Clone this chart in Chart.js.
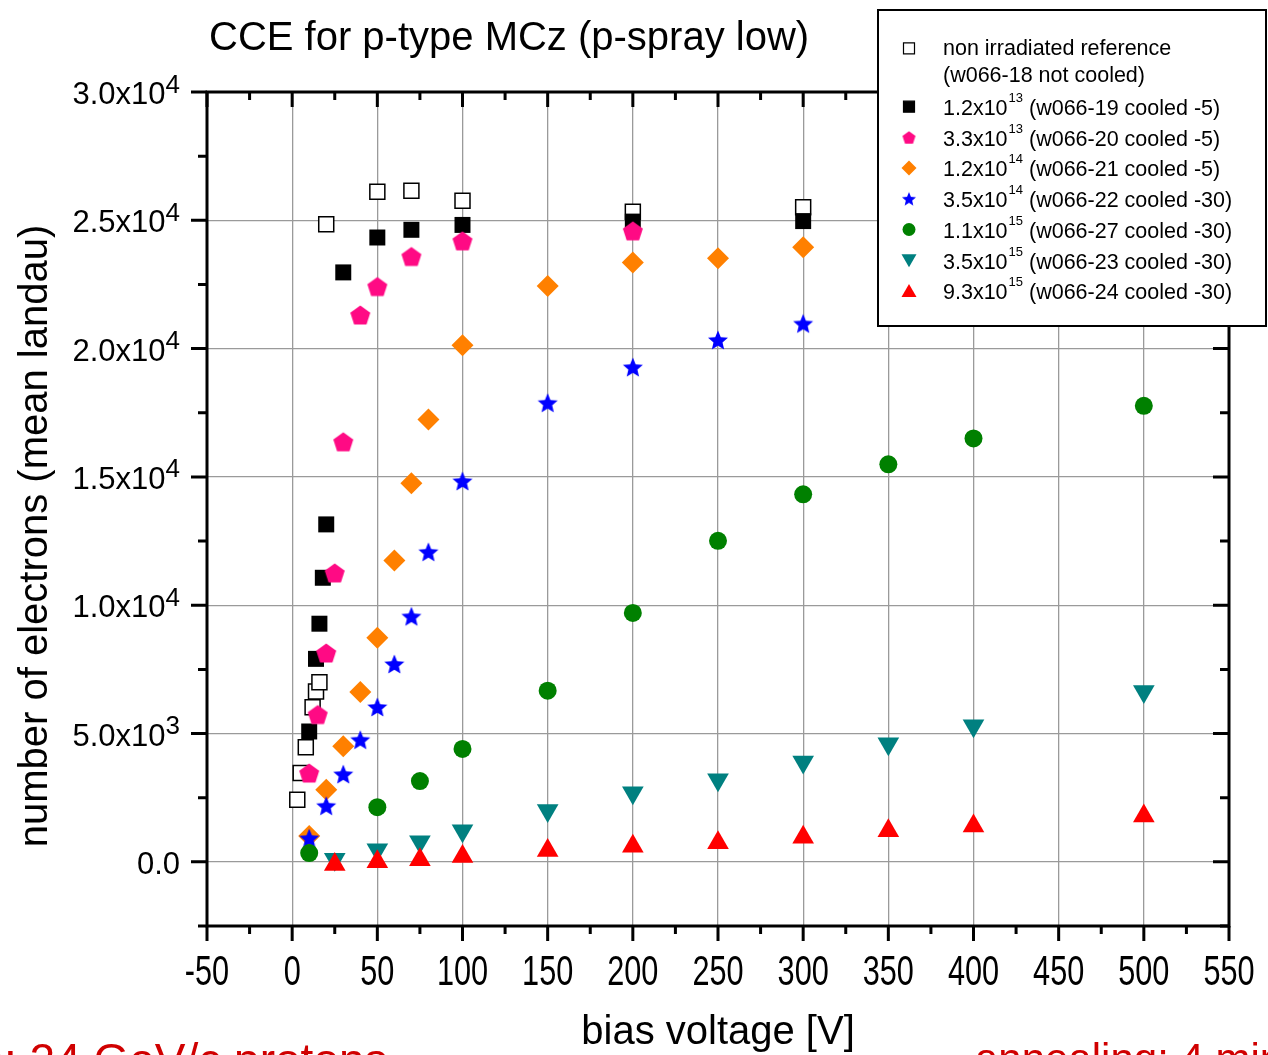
<!DOCTYPE html>
<html>
<head>
<meta charset="utf-8">
<script src="https://cdn.jsdelivr.net/npm/chart.js@4/dist/chart.umd.min.js"></script>
<style>
html, body { margin: 0; padding: 0; background: #fff; }
</style>
</head>
<body>
<canvas id="myChart" width="1268" height="1055"></canvas>
<script>
// data (bias voltage [V] vs mean landau)
const refX = [3, 5, 8, 12, 14, 16, 20, 50, 70, 100, 200, 300];
const refY = [2420, 3460, 4470, 6020, 6640, 7000, 24850, 26110, 26150, 25760, 25330, 25510];

const f1X = [10, 14, 16, 18, 20, 30, 50, 70, 100, 200, 300];
const f1Y = [5080, 7910, 9280, 11070, 13150, 22970, 24330, 24630, 24820, 24950, 24970];

const f2X = [10, 15, 20, 25, 30, 40, 50, 70, 100, 200];
const f2Y = [3460, 5740, 8140, 11260, 16370, 21310, 22420, 23590, 24200, 24590];

const f3X = [10, 20, 30, 40, 50, 60, 70, 80, 100, 150, 200, 250, 300];
const f3Y = [1010, 2810, 4500, 6620, 8730, 11740, 14750, 17240, 20130, 22440, 23360, 23520, 23950];

const f4X = [10, 20, 30, 40, 50, 60, 70, 80, 100, 150, 200, 250, 300];
const f4Y = [925, 2185, 3420, 4760, 6035, 7710, 9570, 12080, 14840, 17890, 19280, 20340, 20980];

const f5X = [10, 50, 75, 100, 150, 200, 250, 300, 350, 400, 500];
const f5Y = [340, 2130, 3150, 4400, 6670, 9700, 12510, 14320, 15490, 16500, 17770];

const f6X = [25, 50, 75, 100, 150, 200, 250, 300, 350, 400, 500];
const f6Y = [100, 470, 780, 1210, 2000, 2690, 3200, 3890, 4600, 5300, 6640];

const f7X = [25, 50, 75, 100, 150, 200, 250, 300, 350, 400, 500];
const f7Y = [-100, 0, 80, 210, 440, 610, 740, 960, 1210, 1400, 1790];

const xTicks = [-50, 0, 50, 100, 150, 200, 250, 300, 350, 400, 450, 500, 550];
const yTicks = [0, 5000, 10000, 15000, 20000, 25000, 30000];
const yTickText = ['0.0', '5.0x10', '1.0x10', '1.5x10', '2.0x10', '2.5x10', '3.0x10'];
const yTickExp = ['', '3', '4', '4', '4', '4', '4'];

const legendMain = ['1.2x10', '3.3x10', '1.2x10', '3.5x10', '1.1x10', '3.5x10', '9.3x10'];
const legendExp = ['13', '13', '14', '14', '15', '15', '15'];
const legendRest = [' (w066-19 cooled -5)', ' (w066-20 cooled -5)', ' (w066-21 cooled -5)',
  ' (w066-22 cooled -30)', ' (w066-27 cooled -30)', ' (w066-23 cooled -30)', ' (w066-24 cooled -30)'];

const FONT = '"Liberation Sans", Arial, sans-serif';
const PINK = '#ff0a84', ORANGE = '#ff8000', BLUE = '#0000ff', GREEN = '#008000', TEAL = '#008080', RED = '#ff0000';

// pentagon / filled star markers (not built into chart.js)
function makeShape(kind, w, color) {
  const s = Math.ceil(w) + 2;
  const c = document.createElement('canvas');
  c.width = s; c.height = s;
  const g = c.getContext('2d');
  const R = w / 1.902;
  const cx = s / 2, cy = s / 2 + 0.0955 * R;
  g.fillStyle = color;
  g.beginPath();
  const n = kind === 'star' ? 10 : 5;
  for (let i = 0; i < n; i++) {
    const a = -Math.PI / 2 + i * 2 * Math.PI / n;
    const r = (kind === 'star' && i % 2) ? R * 0.45 : R;
    g.lineTo(cx + r * Math.cos(a), cy + r * Math.sin(a));
  }
  g.closePath();
  g.fill();
  return c;
}

const pentaBig = makeShape('pentagon', 20, PINK);
const starBig = makeShape('star', 20, BLUE);
const pentaSmall = makeShape('pentagon', 13, PINK);
const starSmall = makeShape('star', 14, BLUE);

function pts(xs, ys) {
  return xs.map((v, i) => ({ x: v, y: ys[i] }));
}

const series = [
  { data: pts(refX, refY), style: 'rect', r: 10.6, bg: '#ffffff', bc: '#000000', bw: 1.5 },
  { data: pts(f1X, f1Y), style: 'rect', r: 11.3, bg: '#000000', bc: '#000000', bw: 0 },
  { data: pts(f2X, f2Y), style: pentaBig, r: 10, bg: PINK, bc: PINK, bw: 0 },
  { data: pts(f3X, f3Y), style: 'rectRot', r: 11, bg: ORANGE, bc: ORANGE, bw: 0 },
  { data: pts(f4X, f4Y), style: starBig, r: 10, bg: BLUE, bc: BLUE, bw: 0 },
  { data: pts(f5X, f5Y), style: 'circle', r: 9, bg: GREEN, bc: GREEN, bw: 0 },
  { data: pts(f6X, f6Y), style: 'triangle', r: 12.5, rot: 180, bg: TEAL, bc: TEAL, bw: 0 },
  { data: pts(f7X, f7Y), style: 'triangle', r: 12.5, bg: RED, bc: RED, bw: 0 }
];

// legend symbols drawn by hand
function legendSymbol(ctx, kind, x, y) {
  ctx.save();
  ctx.beginPath();
  if (kind === 0 || kind === 1) {
    ctx.rect(x - 5.5, y - 5.5, 11, 11);
    ctx.fillStyle = kind === 0 ? '#fff' : '#000';
    ctx.fill();
    ctx.lineWidth = 1.2; ctx.strokeStyle = '#000'; ctx.stroke();
  } else if (kind === 2) {
    ctx.drawImage(pentaSmall, x - pentaSmall.width / 2, y - pentaSmall.height / 2);
  } else if (kind === 3) {
    ctx.moveTo(x, y - 7.5); ctx.lineTo(x + 7.5, y); ctx.lineTo(x, y + 7.5); ctx.lineTo(x - 7.5, y);
    ctx.fillStyle = ORANGE; ctx.fill();
  } else if (kind === 4) {
    ctx.drawImage(starSmall, x - starSmall.width / 2, y - starSmall.height / 2);
  } else if (kind === 5) {
    ctx.arc(x, y, 6.5, 0, Math.PI * 2);
    ctx.fillStyle = GREEN; ctx.fill();
  } else if (kind === 6) {
    ctx.moveTo(x - 7.5, y - 6); ctx.lineTo(x + 7.5, y - 6); ctx.lineTo(x, y + 7);
    ctx.fillStyle = TEAL; ctx.fill();
  } else {
    ctx.moveTo(x - 7.5, y + 6); ctx.lineTo(x + 7.5, y + 6); ctx.lineTo(x, y - 7);
    ctx.fillStyle = RED; ctx.fill();
  }
  ctx.restore();
}

const decorations = {
  id: 'decorations',
  afterDraw(chart) {
    const ctx = chart.ctx;
    const { left, right, top, bottom } = chart.chartArea;
    const xs = chart.scales.x, ys = chart.scales.y;
    ctx.save();

    // frame + ticks
    ctx.strokeStyle = '#000';
    ctx.lineWidth = 3;
    ctx.strokeRect(left, top, right - left, bottom - top);
    ctx.beginPath();
    for (let v = -50; v <= 550; v += 25) {
      const px = xs.getPixelForValue(v);
      const len = v % 50 === 0 ? 15 : 8;
      ctx.moveTo(px, bottom); ctx.lineTo(px, bottom + len);
      ctx.moveTo(px, top); ctx.lineTo(px, top + len);
    }
    for (let v = -2500; v <= 30000; v += 2500) {
      const py = ys.getPixelForValue(v);
      const len = v % 5000 === 0 ? 16 : 9;
      ctx.moveTo(left - len, py); ctx.lineTo(left, py);
      ctx.moveTo(right - len, py); ctx.lineTo(right, py);
    }
    ctx.stroke();

    ctx.fillStyle = '#000';
    // x tick labels (tall, narrow lettering)
    ctx.font = '42px ' + FONT;
    ctx.textAlign = 'center';
    ctx.textBaseline = 'alphabetic';
    xTicks.forEach(v => {
      ctx.save();
      ctx.translate(xs.getPixelForValue(v), 985);
      ctx.scale(0.73, 1);
      ctx.fillText(String(v), 0, 0);
      ctx.restore();
    });

    // y tick labels with superscripts
    yTicks.forEach((v, i) => {
      const py = ys.getPixelForValue(v);
      ctx.font = '26px ' + FONT;
      const ew = yTickExp[i] ? ctx.measureText(yTickExp[i]).width : 0;
      ctx.textAlign = 'left';
      if (yTickExp[i]) ctx.fillText(yTickExp[i], 180 - ew, py + 0.5);
      ctx.font = '31px ' + FONT;
      ctx.textAlign = 'right';
      ctx.fillText(yTickText[i], 180 - ew, py + 12);
    });

    // titles
    ctx.font = '40px ' + FONT;
    ctx.textAlign = 'left';
    ctx.fillText('CCE for p-type MCz (p-spray low)', 209, 50);
    ctx.textAlign = 'center';
    ctx.fillText('bias voltage [V]', (left + right) / 2, 1044);
    ctx.save();
    ctx.translate(47, 536);
    ctx.rotate(-Math.PI / 2);
    ctx.fillText('number of electrons (mean landau)', 0, 0);
    ctx.restore();

    // red notes cut by the bottom edge
    ctx.fillStyle = '#d00000';
    ctx.textAlign = 'left';
    ctx.font = '46px ' + FONT;
    const pre = ctx.measureText('irradiation').width;
    ctx.fillText('irradiation: 24 GeV/c protons', 4 - pre, 1076);
    ctx.font = '42px ' + FONT;
    ctx.fillText('annealing: 4 min', 975, 1073);

    // legend box
    ctx.fillStyle = '#fff';
    ctx.fillRect(878, 10, 388, 316);
    ctx.lineWidth = 2;
    ctx.strokeStyle = '#000';
    ctx.strokeRect(878, 10, 388, 316);
    ctx.fillStyle = '#000';
    ctx.textAlign = 'left';
    ctx.font = '21.5px ' + FONT;
    legendSymbol(ctx, 0, 909, 48.3);
    ctx.fillText('non irradiated reference', 943, 55);
    ctx.fillText('(w066-18 not cooled)', 943, 81.5);
    legendMain.forEach((t, i) => {
      const base = 115 + i * 30.7;
      legendSymbol(ctx, i + 1, 909, base - 8.3);
      ctx.font = '21.5px ' + FONT;
      ctx.fillText(t, 943, base);
      let x = 943 + ctx.measureText(t).width + 1;
      ctx.font = '13px ' + FONT;
      ctx.fillText(legendExp[i], x, base - 13);
      x += ctx.measureText(legendExp[i]).width;
      ctx.font = '21.5px ' + FONT;
      ctx.fillText(legendRest[i], x, base);
    });
    ctx.restore();
  }
};

const myChart = new Chart(document.getElementById('myChart'), {
  type: 'scatter',
  data: {
    datasets: series.map((s, i) => ({
      data: s.data,
      pointStyle: s.style,
      pointRadius: s.r,
      pointHoverRadius: s.r,
      rotation: s.rot || 0,
      backgroundColor: s.bg,
      borderColor: s.bc,
      borderWidth: s.bw,
      showLine: false,
      order: series.length - i
    }))
  },
  options: {
    responsive: false,
    animation: false,
    layout: { padding: { top: 92, right: 39, left: 0, bottom: 0 } },
    plugins: { legend: { display: false }, tooltip: { enabled: false } },
    scales: {
      x: {
        type: 'linear', min: -50, max: 550,
        ticks: { stepSize: 50, display: false },
        grid: { color: '#9a9a9a', lineWidth: 1.3, drawTicks: false },
        border: { display: false },
        afterFit: s => { s.height = 129; }
      },
      y: {
        type: 'linear', min: -2500, max: 30000,
        afterBuildTicks: s => { s.ticks = yTicks.map(v => ({ value: v })); },
        ticks: { display: false },
        grid: { color: '#9a9a9a', lineWidth: 1.3, drawTicks: false },
        border: { display: false },
        afterFit: s => { s.width = 207; }
      }
    }
  },
  plugins: [decorations]
});
</script>
</body>
</html>
